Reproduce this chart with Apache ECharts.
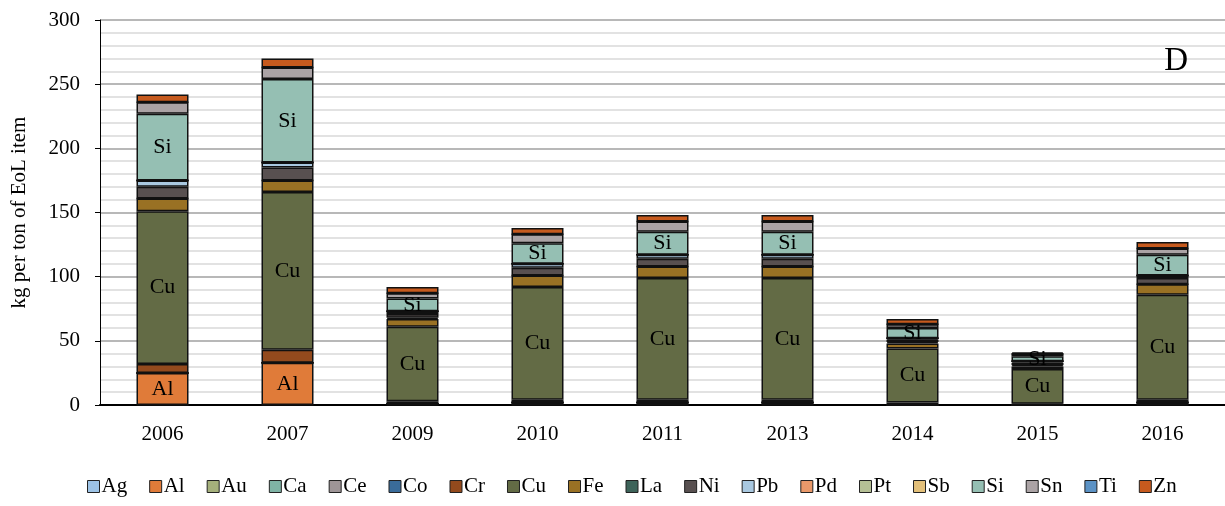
<!DOCTYPE html>
<html>
<head>
<meta charset="utf-8">
<script src="https://cdn.jsdelivr.net/npm/echarts@6/dist/echarts.min.js"></script>
<style>
  html, body { margin: 0; padding: 0; background: #fff; }
  #chart { width: 1225px; height: 506px; }
</style>
</head>
<body>
<div id="chart"></div>
<script>
// categories (years)
const years = ["2006", "2007", "2009", "2010", "2011", "2013", "2014", "2015", "2016"];

// kg per ton of EoL item
const Ag = [0, 0, 0, 0, 0, 0, 0, 0, 0];
const Al = [25, 33, 1, 2, 2, 2, 0, 0, 2];
const Au = [0, 0, 0, 0, 0, 0, 0, 0, 0];
const Ca = [0, 0, 0, 0, 0, 0, 0, 0, 0];
const Ce = [0, 0, 0, 0, 0, 0, 0, 0, 0];
const Co = [0, 0, 0, 0, 0, 0, 0, 0, 0];
const Cr = [7, 10, 2, 2, 2, 2, 2, 1, 2];
const Cu = [119, 123, 58, 88, 95, 95, 42, 27, 82];
const Fe = [10, 9, 6, 9, 9, 9, 4, 2, 8];
const La = [0, 0, 1, 0, 0, 0, 1, 1, 0];
const Ni = [9, 10, 3, 6, 6, 6, 2, 2, 5];
const Pb = [5, 4, 2, 3, 3, 3, 1, 1, 2];
const Pd = [0, 0, 0, 0, 0, 0, 0, 0, 0];
const Pt = [0, 0, 0, 0, 0, 0, 0, 0, 0];
const Sb = [0, 0, 0, 0, 0, 0, 0, 0, 0];
const Si = [52, 65, 10, 16, 18, 18, 8, 4, 16];
const Sn = [9, 9, 4, 7, 8, 8, 3, 2, 5];
const Ti = [0, 0, 0, 0, 0, 0, 0, 0, 0];
const Zn = [6, 7, 5, 5, 5, 5, 4, 1, 5];

const yTicks = [0, 50, 100, 150, 200, 250, 300];

const elements = [
  ["Ag", Ag, "#9dc3e6"], ["Al", Al, "#e07b39"], ["Au", Au, "#a5b07b"],
  ["Ca", Ca, "#7fb3a5"], ["Ce", Ce, "#9e9597"], ["Co", Co, "#3a6c9a"],
  ["Cr", Cr, "#934a1d"], ["Cu", Cu, "#636b45"], ["Fe", Fe, "#997124"],
  ["La", La, "#3d6359"], ["Ni", Ni, "#585050"], ["Pb", Pb, "#a9c8e0"],
  ["Pd", Pd, "#e9996a"], ["Pt", Pt, "#b5bf95"], ["Sb", Sb, "#e3c07a"],
  ["Si", Si, "#95bfb3"], ["Sn", Sn, "#aba3a5"], ["Ti", Ti, "#5b92c5"],
  ["Zn", Zn, "#c65a1e"]
];

const font = "'Liberation Serif', 'Times New Roman', serif";
const labelled = { Al: 20, Cu: 0, Si: 0 };

const series = elements.map(([name, values, color]) => ({
  name: name,
  type: "bar",
  stack: "total",
  barWidth: 52,
  data: values,
  itemStyle: { color: color, borderColor: "#111", borderWidth: 1.5 },
  label: {
    show: name in labelled,
    position: "inside",
    color: "#000",
    fontFamily: font,
    fontSize: 22,
    formatter: p => (p.value > labelled[name] ? name : "")
  },
  emphasis: { disabled: true }
}));

const option = {
  animation: false,
  backgroundColor: "#fff",
  textStyle: { fontFamily: font },
  title: {
    text: "D",
    right: 32,
    top: 40,
    textStyle: { fontFamily: font, fontSize: 33, fontWeight: "normal", color: "#000" }
  },
  grid: { left: 100, right: 0, top: 20, bottom: 101 },
  legend: {
    bottom: 4,
    left: 82,
    itemWidth: 12,
    itemHeight: 12,
    itemGap: 22,
    icon: "rect",
    itemStyle: { borderColor: "#222", borderWidth: 1 },
    textStyle: { fontFamily: font, fontSize: 21, color: "#000", padding: [0, 0, 0, -3] },
    data: elements.map(e => e[0])
  },
  xAxis: {
    type: "category",
    data: years,
    axisTick: { show: false },
    axisLine: { lineStyle: { color: "#000", width: 2 } },
    axisLabel: { color: "#000", fontSize: 21, fontFamily: font, margin: 19 }
  },
  yAxis: {
    type: "value",
    min: yTicks[0],
    max: yTicks[yTicks.length - 1],
    interval: 50,
    name: "kg per ton of EoL item",
    nameLocation: "middle",
    nameGap: 70,
    nameTextStyle: { color: "#000", fontSize: 21, fontFamily: font },
    axisLine: { show: true, lineStyle: { color: "#000", width: 1 } },
    axisTick: { show: true, length: 5, lineStyle: { color: "#000" } },
    axisLabel: { color: "#000", fontSize: 21, fontFamily: font, margin: 20 },
    splitLine: { lineStyle: { color: "#a0a0a0", width: 1.5 } },
    minorTick: { show: false, splitNumber: 5 },
    minorSplitLine: { show: true, lineStyle: { color: "#d9d9d9", width: 1.5 } }
  },
  series: series
};

const chart = echarts.init(document.getElementById("chart"));
chart.setOption(option);
</script>
</body>
</html>
